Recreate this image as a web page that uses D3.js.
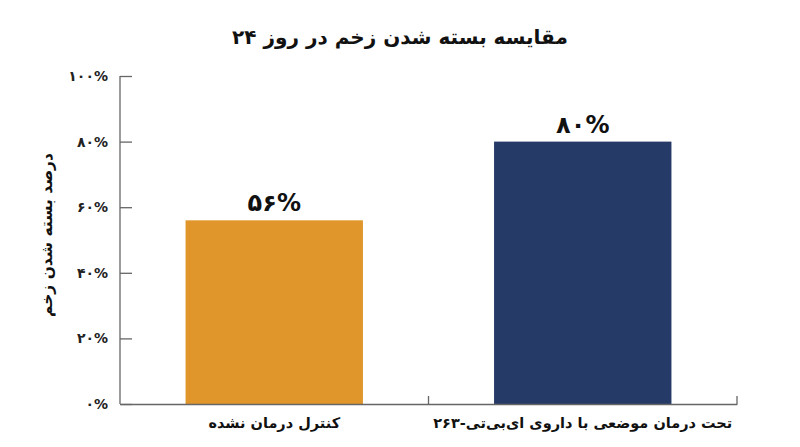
<!DOCTYPE html>
<html>
<head>
<meta charset="utf-8">
<script src="https://cdn.jsdelivr.net/npm/d3@7"></script>
<style>
  body { margin: 0; background: #fff; }
  svg text { font-family: "DejaVu Sans", "Noto Sans", sans-serif; }
</style>
</head>
<body>
<div id="chart"></div>
<script>
// wound closure at day 24 – two bars

const title = "مقایسه بسته شدن زخم در روز ۲۴";
const yLabel = "درصد بسته شدن زخم";
const categories = ["کنترل درمان نشده", "تحت درمان موضعی با داروی ای\u200cبی\u200cتی-۲۶۳"];
const values = [56, 80];
const yTicks = [0, 20, 40, 60, 80, 100];
const barColors = ["#E0962B", "#263A68"];

const faDigits = "۰۱۲۳۴۵۶۷۸۹";
const fa = n => String(n).replace(/\d/g, c => faDigits[+c]) + "%";

const W = 800, H = 447;
const m = { top: 76, right: 63, bottom: 43, left: 120 };

const svg = d3.select("#chart").append("svg")
  .attr("width", W)
  .attr("height", H);

const x = d3.scaleBand()
  .domain(categories)
  .range([m.left, W - m.right])
  .padding(0);

const y = d3.scaleLinear()
  .domain([0, 100])
  .range([H - m.bottom, m.top]);

const barW = x.bandwidth() * 0.575;

// y axis, ticks pointing inward
const gy = svg.append("g")
  .attr("transform", `translate(${m.left},0)`)
  .call(d3.axisRight(y).tickValues(yTicks).tickSize(12).tickFormat(""));
gy.select(".domain").attr("stroke", "#666").attr("stroke-width", 1.3).attr("d", `M0,${y(100)}V${y(0)}`);
gy.selectAll(".tick line").attr("stroke", "#666").attr("stroke-width", 1.3);

svg.append("g").selectAll("text")
  .data(yTicks)
  .enter().append("text")
    .attr("x", m.left - 12)
    .attr("y", d => y(d))
    .attr("dy", "0.35em")
    .attr("text-anchor", "end")
    .attr("font-size", 14)
    .attr("font-weight", "bold")
    .attr("fill", "#222")
    .text(d => fa(d));

// bars
svg.selectAll("rect.bar")
  .data(values)
  .enter().append("rect")
    .attr("class", "bar")
    .attr("x", (d, i) => x(categories[i]) + (x.bandwidth() - barW) / 2)
    .attr("y", d => y(d))
    .attr("width", barW)
    .attr("height", d => y(0) - y(d))
    .attr("fill", (d, i) => barColors[i]);

// value labels
svg.selectAll("text.val")
  .data(values)
  .enter().append("text")
    .attr("class", "val")
    .attr("x", (d, i) => x(categories[i]) + x.bandwidth() / 2)
    .attr("y", d => y(d) - 9)
    .attr("text-anchor", "middle")
    .attr("font-size", 24)
    .attr("font-weight", "bold")
    .attr("fill", "#111")
    .text(d => fa(d));

// x axis with boundary ticks pointing up
const gx = svg.append("g")
  .attr("transform", `translate(0,${y(0)})`)
  .call(d3.axisBottom(x).tickSize(0).tickFormat(""));
gx.select(".domain").attr("stroke", "#666").attr("stroke-width", 1.3);

const edges = categories.map(c => x(c)).concat([x(categories[categories.length - 1]) + x.bandwidth()]);
svg.append("g").selectAll("line")
  .data(edges.slice(1))
  .enter().append("line")
    .attr("x1", d => d).attr("x2", d => d)
    .attr("y1", y(0)).attr("y2", y(0) - 8)
    .attr("stroke", "#666")
    .attr("stroke-width", 1.3);

svg.append("g").selectAll("text")
  .data(categories)
  .enter().append("text")
    .attr("x", d => x(d) + x.bandwidth() / 2)
    .attr("y", y(0) + 24)
    .attr("text-anchor", "middle")
    .attr("direction", "rtl")
    .attr("font-size", 14.5)
    .attr("font-weight", "bold")
    .attr("fill", "#111")
    .text(d => d);

// title
svg.append("text")
  .attr("x", W / 2)
  .attr("y", 44)
  .attr("text-anchor", "middle")
  .attr("direction", "rtl")
  .attr("font-size", 20)
  .attr("font-weight", "bold")
  .attr("fill", "#111")
  .text(title);

// y label
svg.append("text")
  .attr("transform", `translate(52,${(y(0) + y(100)) / 2 - 5}) rotate(-90)`)
  .attr("text-anchor", "middle")
  .attr("direction", "rtl")
  .attr("font-size", 15.5)
  .attr("font-weight", "bold")
  .attr("fill", "#111")
  .text(yLabel);
</script>
</body>
</html>
